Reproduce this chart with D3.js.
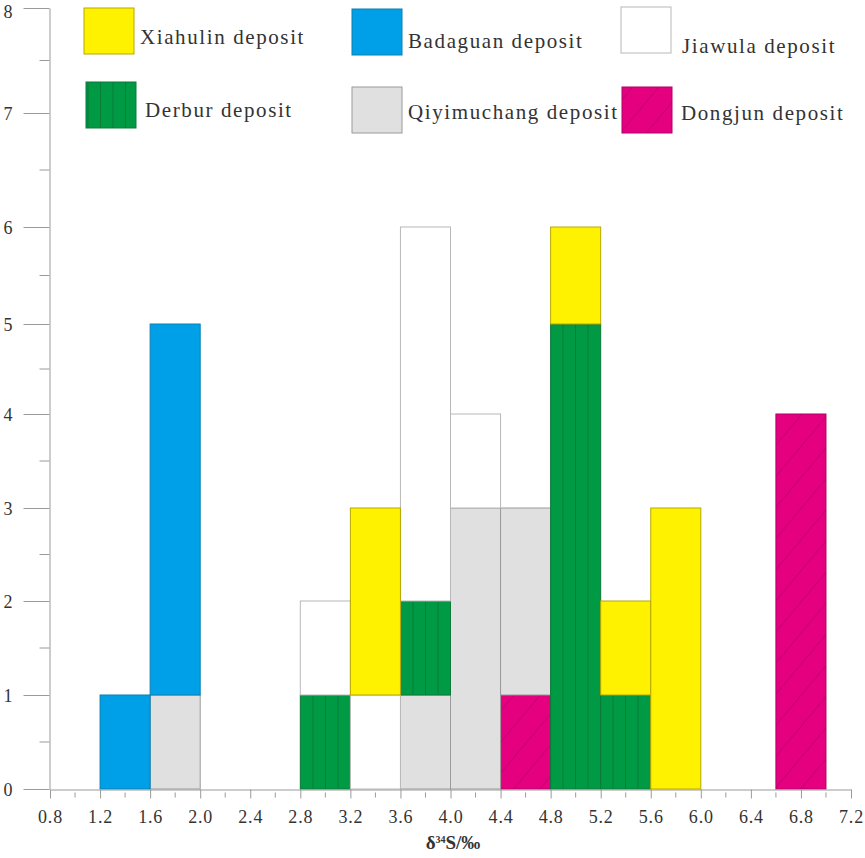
<!DOCTYPE html>
<html>
<head>
<meta charset="utf-8">
<script src="https://cdn.jsdelivr.net/npm/d3@7"></script>
<style>
  body { margin: 0; background: #fff; }
  svg text { font-family: "Liberation Serif", "DejaVu Serif", serif !important; fill: #333; }
</style>
</head>
<body>
<div id="chart"></div>
<script>
// bins are 0.4 wide, value = left edge of bin
let binStart = [1.2, 1.6, 2.8, 3.2, 3.6, 4.0, 4.4, 4.8, 5.2, 5.6, 6.6];
let binWidth = 0.4;

// counts per deposit in each bin
let xiahulin    = [0, 0, 0, 2, 0, 0, 0, 1, 1, 3, 0];
let badaguan    = [1, 4, 0, 0, 0, 0, 0, 0, 0, 0, 0];
let jiawula     = [0, 0, 1, 1, 4, 1, 0, 0, 0, 0, 0];
let derbur      = [0, 0, 1, 0, 1, 0, 0, 5, 1, 0, 0];
let qiyimuchang = [0, 1, 0, 0, 1, 3, 2, 0, 0, 0, 0];
let dongjun     = [0, 0, 0, 0, 0, 0, 1, 0, 0, 0, 4];

let xTicks = [0.8, 1.2, 1.6, 2.0, 2.4, 2.8, 3.2, 3.6, 4.0, 4.4, 4.8, 5.2, 5.6, 6.0, 6.4, 6.8, 7.2];
let yTicks = [0, 1, 2, 3, 4, 5, 6, 7, 8];

// stacking order, bottom to top
let stackKeys = ["Dongjun", "Qiyimuchang", "Badaguan", "Derbur", "Jiawula", "Xiahulin"];
let seriesData = {
  Xiahulin: xiahulin, Badaguan: badaguan, Jiawula: jiawula,
  Derbur: derbur, Qiyimuchang: qiyimuchang, Dongjun: dongjun
};

let table = binStart.map(function(b, i) {
  let row = { bin: b };
  stackKeys.forEach(function(k) { row[k] = seriesData[k][i]; });
  return row;
});

let style = {
  Xiahulin:    { fill: "#fff200", stroke: "#b5a800" },
  Badaguan:    { fill: "#00a0e9", stroke: "#0a7fb0" },
  Jiawula:     { fill: "#ffffff", stroke: "#b8b8b8" },
  Derbur:      { fill: "url(#derburPat)", stroke: "#0b7a3a" },
  Qiyimuchang: { fill: "#e0e0e0", stroke: "#9a9a9a" },
  Dongjun:     { fill: "url(#dongjunPat)", stroke: "#b0006a" }
};

let viz = d3.select("#chart")
  .append("svg")
  .attr("width", 865)
  .attr("height", 858);

let defs = viz.append("defs");

let gp = defs.append("pattern")
  .attr("id", "derburPat")
  .attr("patternUnits", "userSpaceOnUse")
  .attr("x", 0).attr("y", 0)
  .attr("width", 12.5).attr("height", 20);
gp.append("rect").attr("width", 12.5).attr("height", 20).attr("fill", "#009944");
gp.append("line").attr("x1", 0).attr("x2", 0).attr("y1", 0).attr("y2", 20)
  .attr("stroke", "#0a6f35").attr("stroke-width", 1.4);

let pp = defs.append("pattern")
  .attr("id", "dongjunPat")
  .attr("patternUnits", "userSpaceOnUse")
  .attr("width", 20).attr("height", 20)
  .attr("patternTransform", "rotate(-50)");
pp.append("rect").attr("width", 20).attr("height", 20).attr("fill", "#e5007f");
pp.append("line").attr("x1", 0).attr("x2", 20).attr("y1", 0.5).attr("y2", 0.5)
  .attr("stroke", "#a8005f").attr("stroke-width", 1.2).attr("opacity", 0.45);

// axis in the source is not evenly spaced, so the scale follows its ticks
let x = d3.scaleLinear().domain([0.8, 7.2]).range([50, 851]);
let y = d3.scaleLinear().domain(yTicks).range([789, 695, 601, 508, 414, 324, 227, 113, 8]);

let stacked = d3.stack().keys(stackKeys)(table);

viz.append("g").selectAll("g").data(stacked).enter().append("g")
  .each(function(layer) {
    d3.select(this).selectAll("rect")
      .data(layer.filter(function(d) { return d[1] - d[0] > 0; }))
      .enter().append("rect")
      .attr("x", function(d) { return x(d.data.bin); })
      .attr("width", function(d) { return x(d.data.bin + binWidth) - x(d.data.bin); })
      .attr("y", function(d) { return y(d[1]); })
      .attr("height", function(d) { return y(d[0]) - y(d[1]); })
      .attr("fill", style[layer.key].fill)
      .attr("stroke", style[layer.key].stroke)
      .attr("stroke-width", 1);
  });

// x axis
let minorX = d3.range(0.8, 7.2, 0.2).filter(function(v, i) { return i % 2 == 1; });
let xAxis = viz.append("g").attr("transform", "translate(0,789.5)");
xAxis.call(d3.axisBottom(x).tickValues(xTicks).tickSize(9).tickSizeOuter(0).tickPadding(12)
  .tickFormat(d3.format(".1f")));
xAxis.attr("font-family", null);
xAxis.call(function(g) {
  g.select(".domain").attr("stroke", "#9a9a9a");
  g.selectAll(".tick line").attr("stroke", "#9a9a9a");
  g.selectAll(".tick text").attr("font-size", 18).attr("fill", "#333")
    .attr("letter-spacing", "0.8px");
});
xAxis.selectAll(".minor").data(minorX).enter().append("line")
  .attr("x1", x).attr("x2", x).attr("y1", 3).attr("y2", 8)
  .attr("stroke", "#9a9a9a");

// y axis
let minorY = yTicks.slice(0, -1).map(function(v) { return v + 0.5; });
let yAxis = viz.append("g").attr("transform", "translate(49.5,0)");
yAxis.call(d3.axisLeft(y).tickValues(yTicks).tickSize(26).tickSizeOuter(0).tickPadding(11)
  .tickFormat(d3.format("d")));
yAxis.attr("font-family", null);
yAxis.call(function(g) {
  g.select(".domain").attr("stroke", "#9a9a9a");
  g.selectAll(".tick line").attr("stroke", "#9a9a9a");
  g.selectAll(".tick text").attr("font-size", 18).attr("fill", "#333")
    .attr("dy", function(d) { return d == 8 ? "0.5em" : "0.36em"; });
});
yAxis.selectAll(".minor").data(minorY).enter().append("line")
  .attr("x1", -10).attr("x2", 0).attr("y1", y).attr("y2", y)
  .attr("stroke", "#9a9a9a");

// axis title
let title = viz.append("text")
  .attr("x", 453).attr("y", 849)
  .attr("text-anchor", "middle")
  .attr("font-size", 19).attr("font-weight", "bold")
  .attr("fill", "#222");
title.append("tspan").text("δ");
title.append("tspan").attr("dy", -6).attr("font-size", 10).text("34");
title.append("tspan").attr("dy", 6).text("S/‰");

// legend
let legendNames = ["Xiahulin", "Badaguan", "Jiawula", "Derbur", "Qiyimuchang", "Dongjun"];
let legendPos = [
  { sx: 84, sy: 8, tx: 140, ty: 44 },
  { sx: 352, sy: 9, tx: 408, ty: 48 },
  { sx: 621, sy: 7, tx: 682, ty: 53 },
  { sx: 86, sy: 82, tx: 145, ty: 117 },
  { sx: 352, sy: 87, tx: 408, ty: 119 },
  { sx: 622, sy: 87, tx: 681, ty: 120 }
];
let legend = viz.append("g").selectAll("g").data(legendNames).enter().append("g");
legend.append("rect")
  .attr("x", function(d, i) { return legendPos[i].sx; })
  .attr("y", function(d, i) { return legendPos[i].sy; })
  .attr("width", 50).attr("height", 46)
  .attr("fill", function(d) { return style[d].fill; })
  .attr("stroke", function(d) { return style[d].stroke; });
legend.append("text")
  .attr("x", function(d, i) { return legendPos[i].tx; })
  .attr("y", function(d, i) { return legendPos[i].ty; })
  .attr("font-size", 21)
  .attr("letter-spacing", "1.6px")
  .attr("fill", "#333")
  .text(function(d) { return d + " deposit"; });
</script>
</body>
</html>
